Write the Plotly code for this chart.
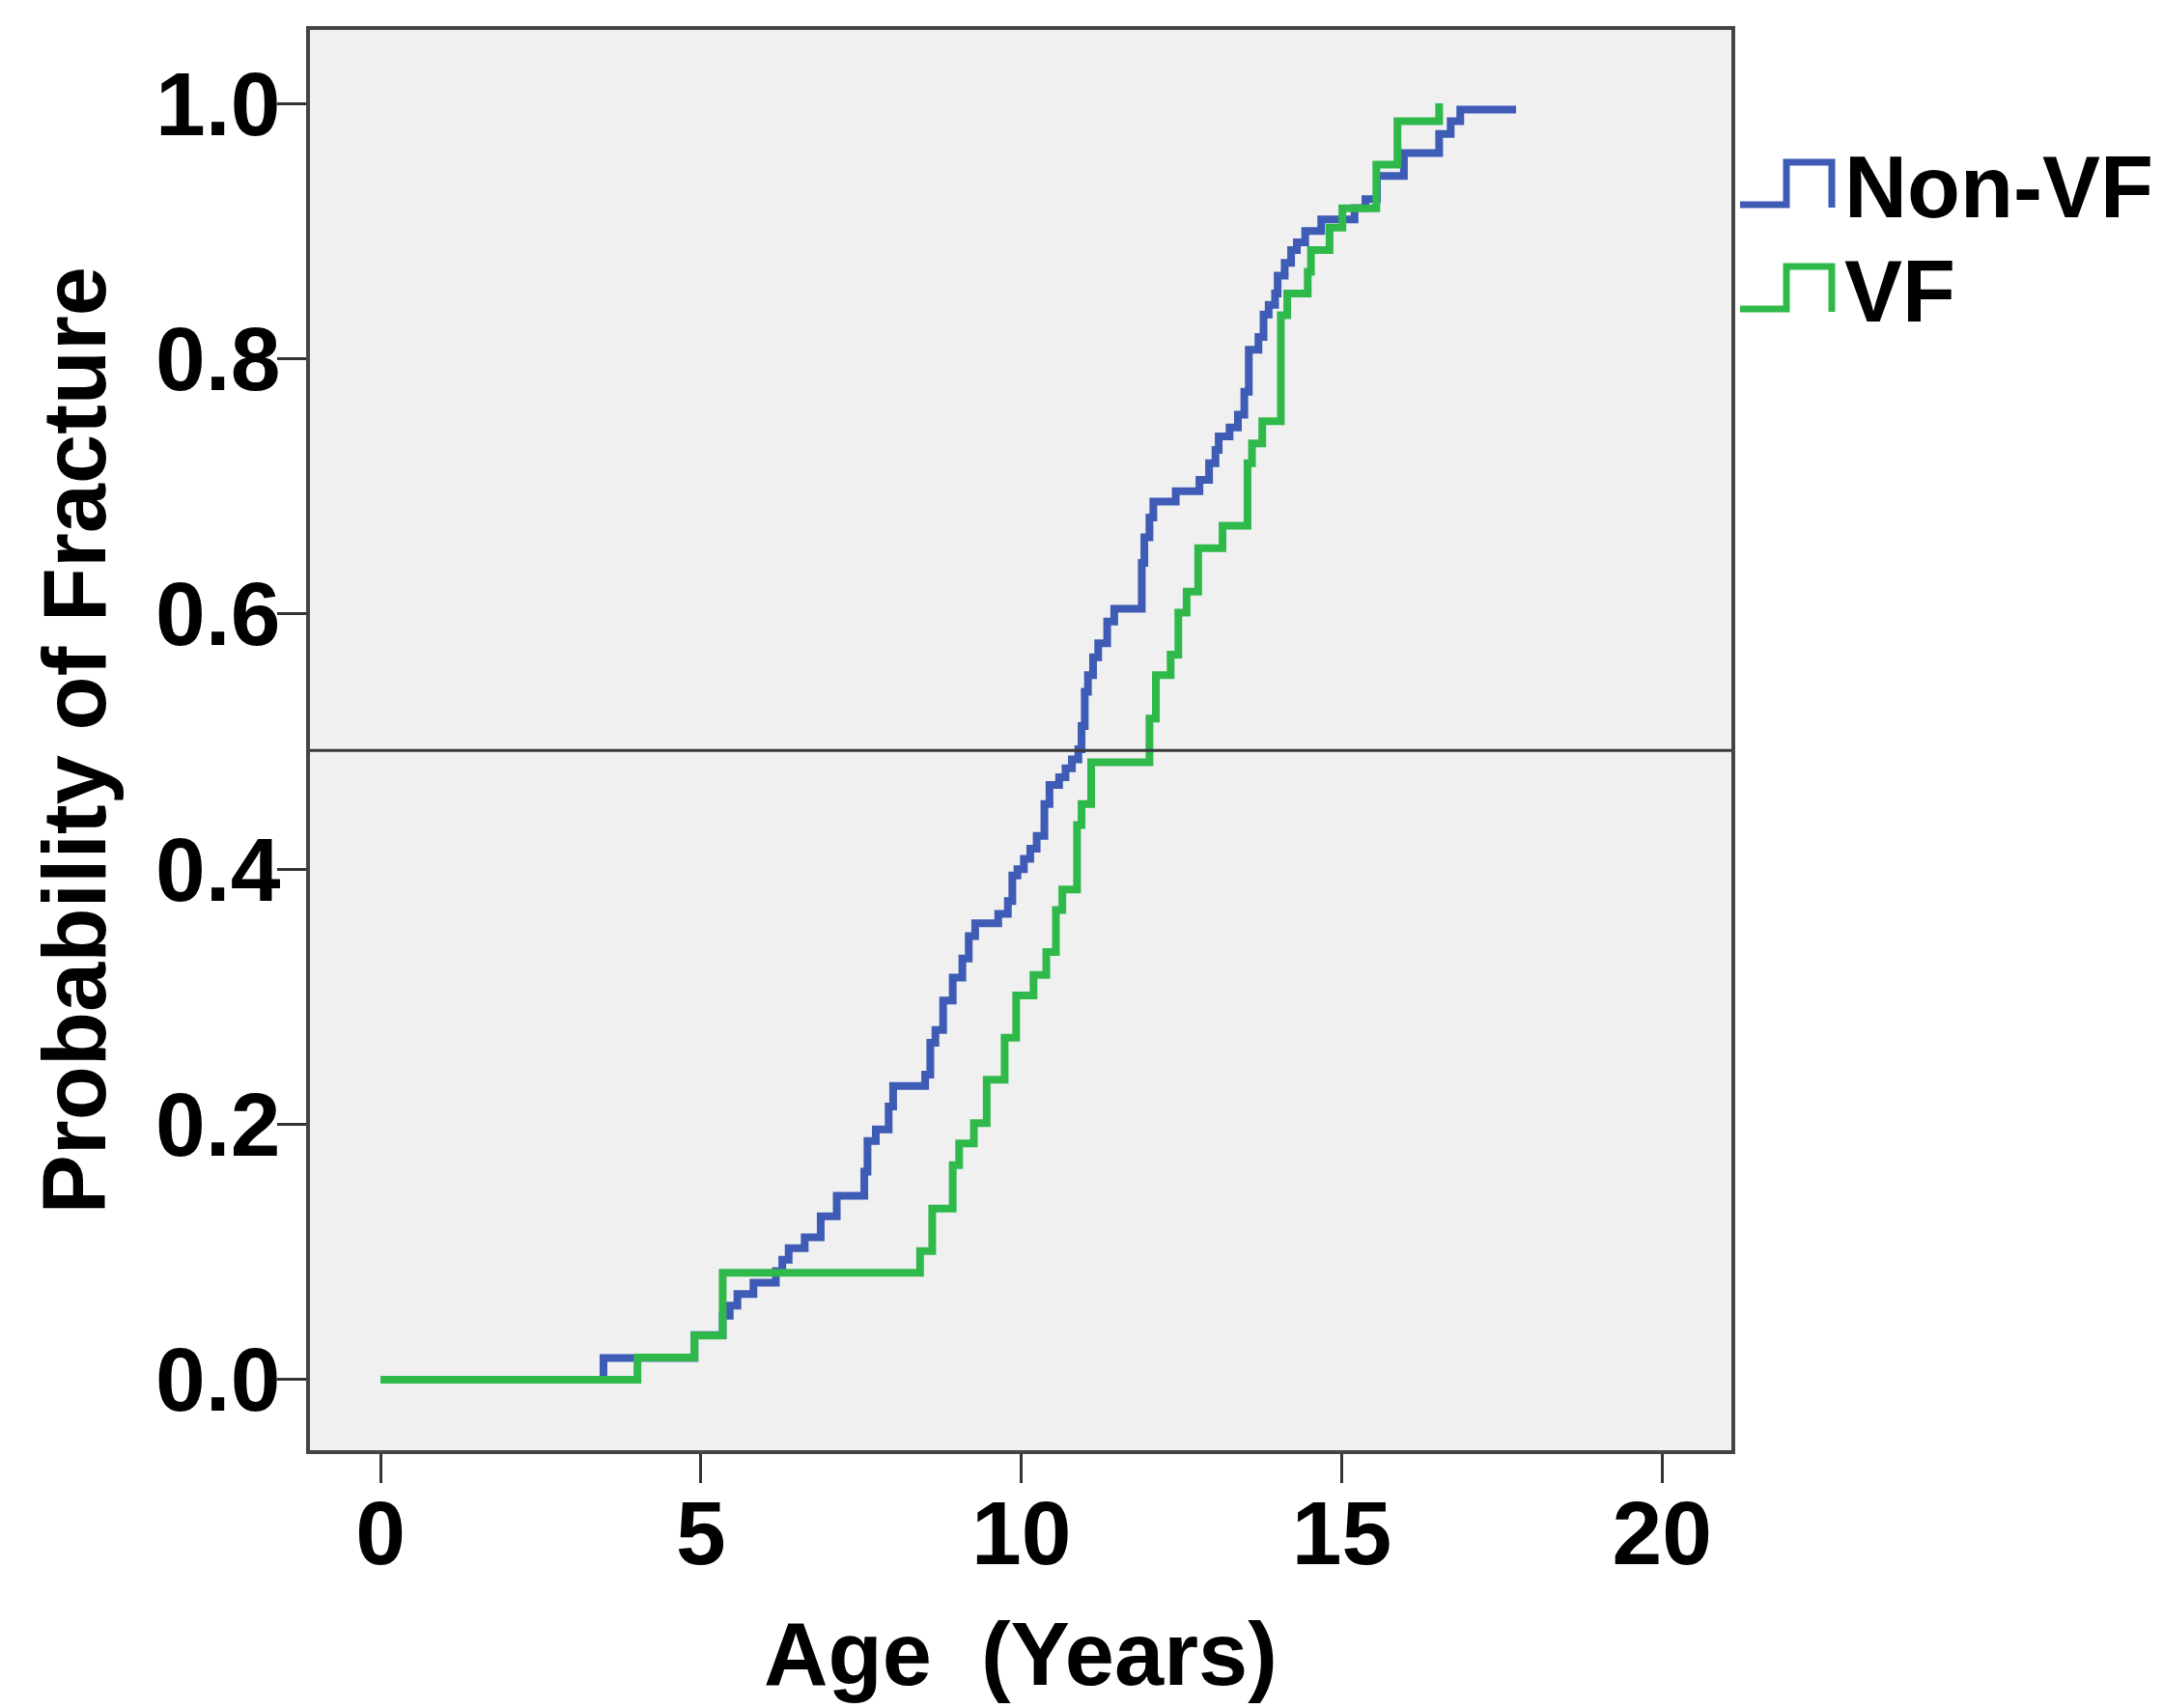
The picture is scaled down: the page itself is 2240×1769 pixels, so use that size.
import plotly.graph_objects as go

# ---- data ----
nonvf_age = [0, 3.48, 4.90, 5.34, 5.45, 5.57, 5.82, 6.17, 6.27, 6.37, 6.62, 6.87, 7.12, 7.55, 7.60,
             7.73, 7.93, 8.00, 8.50, 8.58, 8.66, 8.78, 8.93, 9.08, 9.18, 9.28, 9.64, 9.79, 9.86,
             9.94, 10.04, 10.14, 10.24, 10.36, 10.44, 10.59, 10.69, 10.79, 10.89, 10.94, 10.99,
             11.04, 11.12, 11.20, 11.34, 11.45, 11.88, 11.92, 12.00, 12.06, 12.41, 12.78, 12.93,
             13.03, 13.08, 13.25, 13.38, 13.48, 13.55, 13.70, 13.78, 13.86, 13.96, 14.00, 14.11,
             14.21, 14.30, 14.43, 14.68, 15.20, 15.37, 15.55, 15.97, 16.52, 16.70, 16.85, 17.72]
nonvf_prob = [0, 0.017, 0.035, 0.050, 0.058, 0.067, 0.076, 0.085, 0.094, 0.103, 0.1115, 0.128, 0.144,
              0.163, 0.187, 0.196, 0.214, 0.230, 0.239, 0.264, 0.274, 0.297, 0.315, 0.330, 0.3475,
              0.3575, 0.365, 0.375, 0.395, 0.400, 0.408, 0.416, 0.426, 0.451, 0.466, 0.472, 0.479,
              0.486, 0.494, 0.512, 0.539, 0.552, 0.566, 0.577, 0.594, 0.604, 0.640, 0.660, 0.6755,
              0.688, 0.696, 0.705, 0.718, 0.7285, 0.739, 0.746, 0.756, 0.774, 0.807, 0.817, 0.8345,
              0.842, 0.851, 0.865, 0.875, 0.885, 0.891, 0.900, 0.909, 0.918, 0.925, 0.943, 0.961,
              0.976, 0.986, 0.995, 0.995]

vf_age = [0, 4.01, 4.90, 5.34, 8.42, 8.61, 8.93, 9.03, 9.26, 9.46, 9.74, 9.92, 10.19, 10.39, 10.54,
          10.64, 10.87, 10.94, 11.09, 12.00, 12.10, 12.33, 12.45, 12.58, 12.76, 13.14, 13.53, 13.60,
          13.76, 14.05, 14.15, 14.47, 14.52, 14.81, 15.01, 15.54, 15.87, 16.52]
vf_prob = [0, 0.0174, 0.0346, 0.0838, 0.1007, 0.134, 0.168, 0.185, 0.201, 0.235, 0.268, 0.301, 0.317,
           0.335, 0.368, 0.384, 0.4345, 0.451, 0.4837, 0.518, 0.552, 0.568, 0.601, 0.6175, 0.6515,
           0.669, 0.718, 0.7335, 0.751, 0.834, 0.851, 0.868, 0.885, 0.9026, 0.9177, 0.952, 0.986, 1.0]

reference_level = 0.493
series_names = ["Non-VF", "VF"]
x_ticks = [0, 5, 10, 15, 20]
y_ticks = [0.0, 0.2, 0.4, 0.6, 0.8, 1.0]

BLUE = "#3E5BB5"
GREEN = "#30B94B"
FONT = "Liberation Sans, Arial, sans-serif"

W, H = 2240, 1769
L, R, T, B = 321, 1793, 31, 1502


def px(xp):
    return (xp - L) / (R - L)


def py(yp):
    return (B - yp) / (B - T)


fig = go.Figure()
fig.add_trace(go.Scatter(x=nonvf_age, y=nonvf_prob, mode="lines", line_shape="hv",
                         line=dict(color=BLUE, width=8), name=series_names[0], showlegend=False))
fig.add_trace(go.Scatter(x=vf_age, y=vf_prob, mode="lines", line_shape="hv",
                         line=dict(color=GREEN, width=8), name=series_names[1], showlegend=False))

fig.add_hline(y=reference_level, line=dict(color="#3a3a3a", width=3))

axis_common = dict(showline=True, mirror=True, linecolor="#444444", linewidth=4,
                   ticks="outside", ticklen=30, tickwidth=3, tickcolor="#333333",
                   showgrid=False, zeroline=False,
                   tickfont=dict(family=FONT, size=93, color="black", weight="bold"))

fig.update_xaxes(range=[-1.1, 21.08], tickvals=x_ticks, ticktext=[str(v) for v in x_ticks],
                 ticklabelstandoff=-28, **axis_common)
fig.update_yaxes(range=[-0.0553, 1.0575], tickvals=y_ticks, ticktext=[f"{v:.1f}" for v in y_ticks],
                 ticklabelstandoff=-22, **axis_common)

fig.add_annotation(text="Age \u00a0(Years)", x=0.5, y=py(1713), xref="paper", yref="paper",
                   xanchor="center", yanchor="middle", showarrow=False,
                   font=dict(family=FONT, size=92, color="black", weight="bold"))
fig.add_annotation(text="Probability of Fracture", x=px(76), y=0.5, xref="paper", yref="paper",
                   xanchor="center", yanchor="middle", textangle=-90, showarrow=False,
                   font=dict(family=FONT, size=92, color="black", weight="bold"))

legend_rows = [(series_names[0], BLUE, 194), (series_names[1], GREEN, 302)]
for name, color, cy in legend_rows:
    lo, hi = cy + 18, cy - 26
    path = (f"M {px(1802)},{py(lo)} L {px(1850)},{py(lo)} L {px(1850)},{py(hi)} "
            f"L {px(1897)},{py(hi)} L {px(1897)},{py(lo + 3)}")
    fig.add_shape(type="path", path=path, xref="paper", yref="paper",
                  line=dict(color=color, width=7))
    fig.add_annotation(text=name, x=px(1908), y=py(cy), xref="paper", yref="paper",
                       xanchor="left", yanchor="middle", showarrow=False,
                       font=dict(family=FONT, size=90, color="black", weight="bold"))

fig.update_layout(width=W, height=H, margin=dict(l=L, r=W - R, t=T, b=H - B, autoexpand=False),
                  paper_bgcolor="white", plot_bgcolor="#F0F0F0", showlegend=False)

fig.write_html("out.html")
